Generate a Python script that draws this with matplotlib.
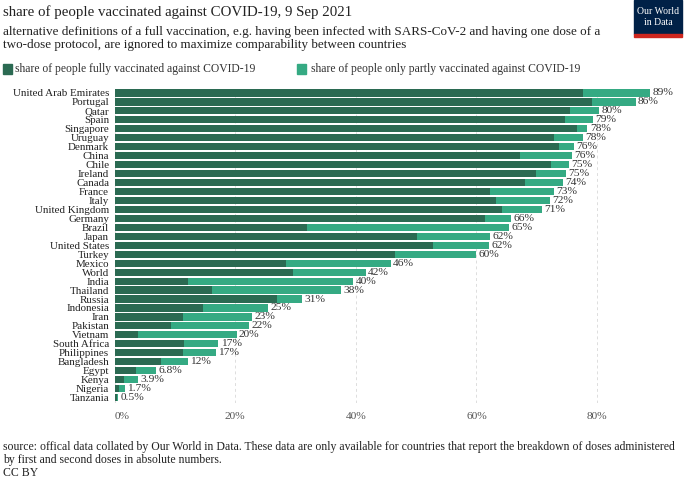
import matplotlib
matplotlib.use("Agg")
import matplotlib.pyplot as plt
from matplotlib.patches import Rectangle

plt.rcParams['font.family'] = ['Liberation Serif', 'DejaVu Serif']

countries = ["United Arab Emirates", "Portugal", "Qatar", "Spain", "Singapore", "Uruguay",
             "Denmark", "China", "Chile", "Ireland", "Canada", "France", "Italy",
             "United Kingdom", "Germany", "Brazil", "Japan", "United States", "Turkey",
             "Mexico", "World", "India", "Thailand", "Russia", "Indonesia", "Iran",
             "Pakistan", "Vietnam", "South Africa", "Philippines", "Bangladesh", "Egypt",
             "Kenya", "Nigeria", "Tanzania"]
# share fully vaccinated (%)
fully = [77.7, 79.1, 75.5, 74.7, 76.6, 72.8, 73.7, 67.2, 72.3, 69.9, 68.0, 62.2, 63.3,
         64.2, 61.4, 31.9, 50.1, 52.8, 46.5, 28.4, 29.5, 12.2, 16.1, 26.9, 14.6, 11.4,
         9.4, 3.8, 11.5, 11.3, 7.6, 3.5, 1.5, 0.7, 0.45]
# share only partly vaccinated (%)
partly = [11.1, 7.3, 4.8, 4.6, 1.8, 4.8, 2.5, 8.7, 3.1, 4.9, 6.3, 10.7, 8.9,
          6.7, 4.4, 33.5, 12.1, 9.3, 13.5, 17.4, 12.1, 27.4, 21.5, 4.1, 10.8, 11.4,
          12.9, 16.4, 5.7, 5.5, 4.5, 3.3, 2.4, 1.0, 0.05]

dark = "#2b6a52"
light = "#35aa83"

fig = plt.figure(figsize=(6.84, 4.8), dpi=100)
ax = fig.add_axes([0.1677, 0.1606, 0.8286, 0.655])

y = list(range(len(countries)))
ax.barh(y, fully, height=0.8, color=dark, zorder=2)
ax.barh(y, partly, left=fully, height=0.8, color=light, zorder=2)

for i, (f, p) in enumerate(zip(fully, partly)):
    tot = f + p
    lab = f"{tot:.1f}%" if tot < 10 else f"{tot:.0f}%"
    ax.text(tot + 0.4, i, lab, va='center', ha='left', fontsize=8.2, color='#333333')

ax.set_yticks(y)
ax.set_yticklabels(countries, fontsize=7.9, color='#222222')
ax.set_ylim(34.6, -0.5)
ax.set_xlim(0, 94)
ax.set_xticks([0, 20, 40, 60, 80])
ax.set_xticklabels(["0%", "20%", "40%", "60%", "80%"], fontsize=8.2, color='#555555')
ax.get_xticklabels()[0].set_ha('left')
ax.tick_params(axis='x', length=0, pad=6.5)
ax.tick_params(axis='y', length=0, pad=4)
ax.grid(axis='x', color='#dddddd', linestyle=(0, (3, 3)), linewidth=0.7, zorder=0)
for s in ax.spines.values():
    s.set_visible(False)

fig.text(0.004, 1 - 12 / 480, "share of people vaccinated against COVID-19, 9 Sep 2021",
         fontsize=10.7, color='#222222', va='center', ha='left')
fig.text(0.004, 1 - 38.5 / 480, "alternative definitions of a full vaccination, e.g. having been infected with SARS-CoV-2 and having one dose of a\n"
         "two-dose protocol, are ignored to maximize comparability between countries",
         fontsize=9.45, color='#222222', va='center', ha='left', linespacing=1.2)

# legend
fig.patches.append(Rectangle((3 / 684, 1 - 73.5 / 480), 9 / 684, 9 / 480, color=dark,
                             transform=fig.transFigure, figure=fig))
fig.text(15 / 684, 1 - 69 / 480, "share of people fully vaccinated against COVID-19",
         fontsize=8.4, color='#333333', va='center', ha='left')
fig.patches.append(Rectangle((297 / 684, 1 - 73.5 / 480), 9 / 684, 9 / 480, color=light,
                             transform=fig.transFigure, figure=fig))
fig.text(311 / 684, 1 - 69 / 480, "share of people only partly vaccinated against COVID-19",
         fontsize=8.4, color='#333333', va='center', ha='left')

# logo
fig.patches.append(Rectangle((634 / 684, 1 - 34 / 480), 48 / 684, 34 / 480, color='#002147',
                             transform=fig.transFigure, figure=fig))
fig.patches.append(Rectangle((634 / 684, 1 - 37 / 480), 48 / 684, 3 / 480, color='#ce261e',
                             transform=fig.transFigure, figure=fig))
fig.text(658 / 684, 1 - 17 / 480, "Our World\nin Data", fontsize=7, color='white',
         ha='center', va='center', linespacing=1.2)

fig.text(0.004, 1 - 460 / 480,
         "source: offical data collated by Our World in Data. These data are only available for countries that report the breakdown of doses administered\n"
         "by first and second doses in absolute numbers.\nCC BY",
         fontsize=8.5, color='#222222', va='center', ha='left', linespacing=1.15)

fig.savefig("out.png", dpi=100)
